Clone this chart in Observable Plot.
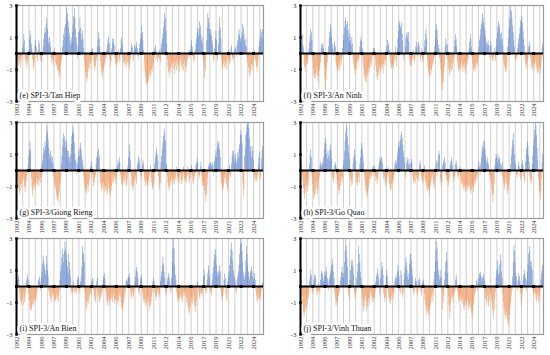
<!DOCTYPE html>
<html><head><meta charset="utf-8">
<script src="https://cdn.jsdelivr.net/npm/d3@7"></script>
<script src="https://cdn.jsdelivr.net/npm/@observablehq/plot@0.6"></script>
<style>
html,body{margin:0;padding:0;background:#fff;}
#wrap{position:relative;width:550px;height:355px;overflow:hidden;background:#fff;}
.panel{position:absolute;}
</style></head><body><div id="wrap"></div>
<script>
// x-axis tick labels (one every 20 months, starting Jan 1992)
const yearLabels = ["1992","1994","1996","1997","1999","2001","2002","2004","2006","2007","2009","2011","2012","2014","2016","2017","2019","2021","2022","2024"];
const yTicks = [-3, -1, 1, 3];
const panelTitles = ["(e) SPI-3/Tan Hiep", "(f) SPI-3/An Ninh", "(g) SPI-3/Giong Rieng", "(h) SPI-3/Go Quao", "(i) SPI-3/An Bien", "(j) SPI-3/Vinh Thuan"];

// Monthly SPI-3, Jan 1992 .. Dec 2024 (12 values per year)
const tanHiep = [
-0.2,-0.5,-0.7,-0.4,-0.8,-0.6,-0.3,-0.9,-0.5,-0.2,0.3,0.6,
1.2,0.8,-0.3,-0.6,-0.4,-0.9,-0.7,-0.5,0.2,0.9,1.4,1.1,
0.6,0.3,-0.4,-0.8,-1.0,-0.6,0.5,0.8,0.4,-0.3,-0.5,0.2,
0.8,0.6,-0.2,-0.5,-0.3,-0.6,-0.2,0.4,0.9,1.2,1.6,1.3,
2.2,1.8,1.5,0.9,0.6,1.0,0.7,0.4,-0.3,-0.6,-0.4,-0.8,
-0.5,0.3,-0.2,-0.6,-0.8,-0.7,-1.0,-1.1,-1.3,-1.5,-1.2,-0.8,
-0.5,-0.3,0.4,0.8,1.2,1.6,1.0,1.8,2.2,2.8,2.5,2.0,
1.6,1.2,0.8,0.5,1.0,0.7,1.3,1.8,2.3,2.8,2.2,1.5,
1.0,0.6,-0.3,0.4,1.3,1.4,2.2,1.6,1.2,0.8,1.4,0.9,
0.3,-0.4,-0.8,-1.2,-1.5,-1.8,-1.6,-1.2,-0.9,-0.6,-1.0,-0.7,
-0.4,0.2,0.3,-0.2,-0.6,-0.9,-1.1,-0.8,-0.5,-0.3,0.4,0.8,
1.3,0.9,0.4,-0.5,-0.9,-1.3,-1.5,-1.2,-1.0,-0.6,-0.8,-0.4,
-0.3,0.2,0.5,0.8,1.0,0.6,-0.4,-0.8,-0.5,0.3,0.9,0.6,
0.9,0.5,-0.3,-0.7,-0.5,-0.9,-0.6,-0.3,0.2,-0.4,-0.6,0.3,
0.8,1.0,0.5,-0.3,-0.6,-0.8,-0.5,-0.7,-0.4,-0.9,-0.6,-0.2,
-0.6,-1.0,-0.8,-0.4,0.3,0.6,0.4,-0.3,-0.5,0.2,0.5,0.3,
0.4,0.7,0.3,-0.2,-0.4,0.3,0.6,0.9,1.2,1.7,1.3,0.8,
0.2,-0.5,-1.0,-1.5,-1.8,-2.0,-1.9,-1.6,-1.8,-1.4,-1.1,-1.5,
-1.3,-1.0,-0.8,-1.2,-0.6,-0.3,0.3,0.5,0.2,-0.4,-0.6,-0.2,
-0.3,0.2,-0.4,-0.6,0.3,0.6,0.9,1.2,1.6,2.0,2.5,2.2,
1.4,0.6,-0.4,-0.8,-1.2,-1.5,-1.1,-0.9,-1.3,-0.7,-0.5,-0.9,
-0.6,-1.0,-1.3,-0.8,-0.5,-1.1,-0.7,-0.4,-0.9,-1.2,-0.6,-0.3,
-0.5,-0.8,-1.0,-0.7,-1.1,-0.6,-0.4,-0.9,-1.2,-0.8,-0.5,-0.3,
-0.2,0.2,-0.3,0.1,0.5,0.8,0.4,-0.2,-0.4,-0.6,-0.3,0.2,
0.6,0.9,1.3,1.6,1.1,1.5,2.0,1.7,1.2,0.8,1.0,0.6,
-0.4,-0.9,-1.5,-1.1,-0.3,0.8,1.6,2.5,2.2,1.9,1.5,1.2,
1.5,1.1,0.8,0.5,-0.4,-0.6,0.3,0.9,1.4,0.8,-0.3,-0.5,
0.6,1.4,2.2,1.6,0.9,-0.4,-0.8,-1.0,-0.7,-0.5,-0.9,-0.6,
-0.8,-1.0,-0.6,-0.3,0.2,-0.4,-0.7,-0.5,0.3,0.5,-0.2,-0.4,
-0.3,-0.6,0.2,0.4,0.3,-0.2,0.5,0.8,1.1,1.5,1.2,0.9,
0.7,1.0,1.3,1.8,1.6,1.2,0.8,0.5,0.9,0.4,-0.3,-0.6,
-0.9,-1.2,-1.5,-1.3,-1.0,-0.7,-1.1,-0.8,-0.5,-0.3,0.2,-0.4,
-0.6,-0.9,-1.2,-0.8,-0.3,0.4,0.7,1.0,1.5,1.3,0.9,1.5];

const anNinh = [
-0.5,-0.8,-1.0,0.6,1.2,0.4,-0.6,-0.9,-1.2,-0.8,-0.4,-0.7,
-0.6,-0.3,0.3,0.7,1.1,1.5,1.3,0.8,-0.4,-1.0,-1.4,-1.6,
-1.3,-1.6,-1.2,-0.9,-1.4,-1.8,-1.5,-1.1,-0.8,-0.6,0.3,0.6,
0.5,0.6,0.3,-0.8,-1.5,-2.3,-1.7,-1.0,-0.6,-0.3,0.4,0.9,
1.3,1.8,1.5,1.0,0.6,0.3,-0.2,0.5,0.7,0.4,-0.5,-0.8,
-1.0,-1.2,-0.9,-0.6,-1.1,-0.8,-0.4,-0.7,-0.3,0.3,0.8,1.2,
1.6,2.0,2.2,1.8,1.4,2.0,1.5,1.0,0.7,1.2,0.8,0.5,
1.0,0.6,-0.3,-0.7,-1.0,-1.3,-0.9,-1.1,-0.6,-0.4,-0.8,-0.5,
-0.3,0.4,0.8,1.0,0.7,0.3,-0.4,-0.9,-1.3,-1.6,-1.8,-1.4,
-1.8,-1.5,-1.2,-0.9,-1.3,-1.0,-0.7,-0.5,-0.8,-0.4,-0.2,0.3,
0.3,0.2,-0.4,-0.8,-1.2,-1.5,-1.7,-1.4,-1.1,-0.9,-1.2,-0.8,
-1.0,-0.6,-0.9,-1.3,-0.7,-0.4,-0.8,-0.5,-0.3,0.4,0.8,0.5,
0.6,0.2,-0.3,-0.6,-0.9,-1.0,-0.7,-0.8,-1.0,-0.6,-0.3,0.4,
-0.5,-0.8,0.3,0.9,1.4,1.8,2.0,1.7,1.5,1.9,1.2,0.8,
-0.3,-0.5,-0.2,0.4,0.9,1.2,1.3,1.0,1.3,0.7,-0.4,-0.8,
-0.6,-0.8,-0.5,-0.3,0.2,-0.4,-0.6,-0.3,0.4,0.7,0.3,-0.2,
0.5,0.7,0.4,-0.3,-0.5,-0.2,0.3,-0.4,-0.6,-0.3,0.4,0.8,
1.2,1.5,0.9,-0.4,-0.9,-1.2,-1.5,-1.3,-1.0,-1.4,-1.1,-0.7,
-0.8,-0.5,-0.3,0.4,0.9,1.5,1.8,1.4,0.8,0.5,0.3,-0.3,
-0.6,-1.0,-1.5,-1.9,-2.3,-1.8,-1.2,-0.8,0.4,0.9,0.6,-0.4,
0.5,-0.6,-1.0,-1.4,-1.2,-0.9,-1.1,-0.7,-1.0,-0.6,-0.3,0.4,
0.8,1.2,0.9,0.4,-0.5,-0.9,-1.2,-1.0,-0.8,-1.1,-0.7,-0.5,
-0.9,-1.2,-0.8,-0.6,-1.0,-1.3,-0.9,-0.6,-0.4,-0.7,-0.3,0.3,
0.7,1.2,0.9,0.4,-0.3,-0.7,-1.0,-1.2,-0.9,-1.1,-0.8,-0.6,
-0.9,-0.6,-0.3,0.4,0.8,1.1,1.5,1.8,2.0,2.5,2.2,1.9,
1.6,1.4,1.0,0.7,0.4,0.6,0.8,0.5,-0.3,0.4,0.7,0.5,
-0.3,-0.5,-0.4,-0.2,0.3,-0.3,-0.5,0.4,0.9,1.3,1.7,2.0,
1.8,1.6,1.2,0.8,1.3,0.9,0.5,-0.4,-0.7,-0.9,-1.1,-1.2,
-1.0,-0.6,0.4,0.9,1.5,2.1,2.7,3.0,2.6,2.2,1.7,1.3,
0.8,0.4,-0.3,-0.5,-0.4,-0.2,0.3,0.6,0.9,1.2,1.6,2.0,
2.1,2.3,1.9,1.4,0.9,0.5,-0.4,-0.7,-1.0,-0.8,-0.5,-0.3,
0.4,0.7,0.5,-0.3,-0.6,-0.9,-1.1,-0.8,-0.6,-1.0,-0.7,-0.4,
-0.6,-0.9,-1.3,-1.1,-1.2,-0.8,-1.0,-1.3,-0.9,-0.5,0.3,0.6];

const giongRieng = [
0.3,-0.4,-0.7,-1.0,-1.2,-1.5,-1.3,-0.9,-1.1,-0.8,-0.5,-0.3,
-0.6,-1.0,-1.4,-1.1,-0.7,-0.4,-0.2,0.4,0.9,1.3,1.8,1.2,
-0.5,-1.1,-1.6,-1.3,-0.9,-1.0,-0.7,-1.1,-0.8,-0.5,-0.9,-0.6,
-1.0,-0.7,-0.4,-0.8,-0.5,0.3,0.6,1.0,1.4,1.2,1.8,1.5,
2.2,2.8,2.4,1.9,1.4,1.0,0.7,1.2,0.9,0.5,0.8,0.4,
-0.4,-0.8,-1.2,-1.0,-1.5,-1.7,-1.9,-2.0,-1.6,-1.3,-0.9,-0.5,
0.4,0.9,1.5,2.0,2.3,2.1,1.8,1.4,1.9,1.6,1.2,0.8,
1.2,0.8,0.5,1.0,1.6,2.1,2.4,2.7,2.3,1.7,1.0,0.6,
0.5,-0.3,0.4,0.8,1.2,0.9,1.4,1.7,1.3,0.9,0.6,0.3,
-0.4,-0.8,-1.1,-1.3,-1.5,-1.2,-0.9,-1.4,-1.0,-0.7,-0.5,0.2,
0.5,0.3,-0.3,-0.7,-1.0,-0.8,-0.5,-0.3,0.4,0.8,1.1,0.7,
1.3,0.9,-0.4,-0.8,-1.1,-1.3,-0.9,-1.2,-0.7,-1.0,-1.4,-1.2,
-1.0,-1.3,-1.5,-1.2,-0.8,-1.1,-1.4,-1.6,-1.3,-1.0,-0.7,-0.4,
-0.8,-0.5,-0.3,-0.6,-0.9,-0.4,0.3,0.6,0.4,0.8,0.5,-0.3,
-0.5,-0.9,-1.0,-0.7,-0.4,-0.8,-0.6,-0.3,-0.9,-1.0,-0.6,0.3,
0.8,1.6,1.2,0.6,-0.4,-0.9,-1.1,-1.3,-1.0,-0.7,-0.5,-0.3,
-0.6,-0.9,0.3,0.5,0.9,0.7,0.4,-0.3,-0.6,-0.4,0.3,0.6,
0.4,-0.4,-0.7,-1.0,-0.8,-0.6,-0.9,-1.0,-0.7,-0.4,-0.2,0.3,
-0.5,-0.8,-1.1,-1.2,-0.9,-0.6,0.4,0.8,1.1,1.4,1.0,0.6,
-0.4,-0.9,-1.2,-0.8,0.5,0.9,1.3,1.7,2.1,2.6,2.3,1.8,
0.4,0.3,-0.4,-0.8,-1.0,-1.3,-1.1,-0.7,-0.9,-0.5,-0.3,-0.6,
-0.8,-0.5,-0.9,-0.6,-0.3,0.2,-0.4,-0.7,-0.5,-0.8,-0.4,-0.2,
-0.6,-0.9,-0.7,-0.4,0.2,-0.3,-0.6,-0.8,-0.5,-0.7,-0.4,0.2,
-0.3,-0.6,-0.8,-0.5,-0.2,0.3,-0.4,-0.7,-0.9,-0.6,-0.4,-0.2,
0.3,0.5,0.7,0.4,-0.3,-0.6,-0.4,0.2,0.5,-0.4,-0.8,-1.0,
-0.7,-1.0,-1.3,-1.6,-2.0,-1.5,-0.9,-0.5,0.2,0.4,0.3,0.5,
0.4,0.2,0.5,0.3,-0.3,0.4,0.6,0.9,1.2,0.8,1.4,1.8,
1.6,1.8,1.3,0.8,-0.4,-0.8,-1.0,-1.3,-1.1,-0.8,-0.5,-0.3,
-0.6,-0.9,-1.3,-1.1,-0.7,-0.4,0.3,-0.3,-0.5,0.4,0.9,1.2,
1.2,0.8,0.5,1.0,0.7,0.4,0.6,1.1,0.8,1.3,1.6,2.2,
2.5,2.2,1.7,-0.8,-1.6,-1.2,0.9,1.4,2.2,2.4,2.8,3.0,
3.0,2.6,2.0,1.5,1.2,0.8,1.5,1.2,0.6,-0.3,-0.5,-0.7,
-0.4,-0.7,-0.5,-0.3,0.4,0.8,1.1,-0.4,-0.6,0.7,1.2,1.5];

const goQuao = [
0.3,0.6,0.4,-0.3,-0.7,-1.1,-1.5,-1.8,-1.4,-1.0,-0.6,-0.8,
-1.3,-1.0,-0.6,0.4,0.9,1.3,0.8,-0.4,-0.9,-1.4,-1.8,-1.6,
-1.5,-1.2,-0.8,-1.1,-1.5,-1.2,-0.7,-0.4,0.3,0.5,0.4,0.2,
0.5,0.4,0.8,1.3,1.7,2.0,1.6,1.0,0.7,1.2,0.9,0.6,
1.3,1.6,1.2,0.7,-0.4,-0.6,-0.8,-0.5,0.3,0.5,0.3,-0.3,
-0.6,-0.9,-1.2,-1.5,-1.3,-1.0,-0.7,-0.4,-0.8,-0.5,0.3,0.6,
1.2,1.8,2.4,3.0,2.7,2.1,1.6,1.1,0.7,-0.4,-0.7,-1.0,
-0.6,-0.9,0.4,0.8,1.3,1.0,0.6,-0.5,-0.8,-1.0,-0.7,-0.4,
-0.8,0.4,0.8,1.3,1.7,1.4,0.9,0.5,-0.3,-0.6,-1.0,-1.3,
-1.5,-1.7,-1.4,-1.1,-0.8,-0.5,-0.3,-0.6,-0.4,-0.2,0.2,-0.3,
0.3,0.2,-0.4,-0.7,-0.5,-0.9,-0.6,-0.3,0.3,0.5,0.8,0.6,
0.8,0.7,0.4,-0.3,-0.6,-0.4,-0.7,-1.0,-0.8,-0.5,-0.3,0.2,
-0.4,-0.8,-1.1,-1.3,-1.2,-0.9,-0.6,-0.8,-0.5,-0.3,0.4,0.6,
0.3,0.5,0.9,1.2,1.5,1.8,1.4,1.9,2.2,2.4,2.0,1.6,
1.2,0.8,0.5,-0.3,-0.5,0.4,0.8,0.6,0.3,0.7,0.4,-0.3,
0.4,0.7,0.5,-0.4,-0.7,-0.9,-0.6,-0.3,-0.8,-0.5,-0.3,-0.6,
-0.4,-0.7,0.3,0.6,0.4,-0.3,-0.6,-0.9,-0.7,-0.4,0.3,-0.5,
-0.7,-0.9,-1.1,-1.3,-1.0,-1.2,-1.5,-1.3,-1.0,-0.8,-0.5,-0.3,
-0.6,-0.9,-1.2,-0.8,-0.5,0.3,0.6,-0.4,0.5,0.9,1.2,1.0,
-0.5,-0.8,-1.0,-0.7,0.3,0.6,0.4,0.8,0.5,-0.3,-0.6,-0.4,
-0.7,-1.0,-0.8,-0.5,0.3,0.5,0.8,0.6,0.3,-0.4,-0.7,-0.5,
-0.3,0.4,0.6,0.3,-0.3,-0.6,-0.4,-0.2,0.2,-0.4,-0.7,-0.9,
-0.8,-1.0,-1.2,-0.9,-1.1,-1.4,-1.2,-0.9,-1.0,-1.3,-1.1,-0.8,
-1.0,-1.3,-1.5,-1.2,-0.9,-1.1,-1.4,-1.0,-0.7,-0.9,-0.6,-0.4,
-0.6,-0.3,0.3,0.5,0.2,-0.3,0.4,0.8,1.2,1.5,1.8,1.4,
1.8,1.3,0.9,0.6,0.4,0.8,0.5,0.3,-0.3,-0.6,-0.4,-0.8,
-1.2,-1.6,-2.0,-1.5,-0.9,0.3,0.7,1.0,0.8,0.5,1.0,0.7,
0.6,0.8,0.4,-0.3,0.3,0.5,-0.4,-0.7,-1.0,-1.2,-0.8,-0.5,
-0.9,-1.2,-1.5,-1.3,-0.9,-0.6,-0.3,0.4,0.9,1.4,1.9,2.3,
1.6,1.0,0.5,0.3,-0.3,-0.5,-0.3,0.3,0.5,0.2,-0.4,-0.6,
-0.3,0.4,0.6,0.3,-0.4,-0.6,-0.8,0.5,1.0,1.4,1.8,1.5,
0.9,0.5,-0.4,-0.7,-0.9,-0.6,0.4,0.9,1.5,2.0,2.5,3.0,
2.8,2.2,1.4,0.6,-0.5,-1.0,-1.4,-1.8,-1.3,-0.6,0.5,1.0];

const anBien = [
-0.6,-0.9,0.4,0.7,0.5,-0.4,-0.8,-1.0,-1.2,-0.9,-0.6,-0.4,
-1.2,-1.0,-0.7,-0.4,0.3,0.5,0.7,0.4,-0.5,-0.9,-1.3,-1.5,
-1.5,-1.3,-1.1,-0.8,-1.2,-0.9,-0.6,-1.0,-0.7,-0.4,-0.2,0.3,
0.4,0.6,0.3,-0.3,0.5,0.9,1.4,1.9,1.6,1.3,1.0,0.7,
1.9,1.4,1.0,0.6,-0.3,-0.6,-0.4,-0.8,-1.0,-0.7,-0.5,-0.3,
-0.6,-0.8,-1.0,-0.9,-0.7,-0.5,-0.8,-1.0,-0.6,-0.3,0.4,0.9,
1.3,1.8,2.3,2.0,1.5,2.2,2.8,2.4,2.0,1.6,1.2,0.8,
2.0,1.5,1.0,0.6,-0.3,-0.5,-0.3,-0.4,0.3,-0.2,-0.4,-0.3,
-0.5,-0.3,0.4,0.6,0.5,-0.3,-0.5,0.3,0.6,1.2,2.5,2.1,
2.0,1.5,-0.4,-0.9,-1.5,-1.3,-1.0,-0.8,-1.1,-0.7,-0.5,-0.3,
-0.5,0.3,0.5,0.4,-0.3,-0.6,-0.9,-1.0,-0.7,0.3,0.5,-0.4,
-0.6,-0.9,-1.0,-0.7,-0.4,-0.6,-0.3,0.4,0.6,0.8,0.5,-0.3,
-0.6,-0.9,-1.2,-1.0,-0.7,-0.9,-1.2,-0.8,-0.5,-0.8,-1.0,-0.7,
-0.5,-0.8,-1.1,-0.9,-0.6,-0.8,-1.0,-1.2,-0.9,-0.6,-0.4,-0.7,
-1.0,-1.3,-1.5,-1.4,-1.1,-0.8,-0.5,-0.3,0.3,0.4,0.3,0.5,
0.6,0.8,0.5,-0.4,-0.8,-0.6,-0.3,-0.5,-0.7,-0.4,0.3,0.6,
1.0,1.2,0.9,0.5,-0.4,-0.6,-0.3,0.4,0.7,0.5,-0.4,-0.7,
-0.9,-1.1,-0.8,-1.0,-1.3,-1.1,-0.8,-0.6,-1.0,-1.3,-1.5,-1.2,
-1.0,-0.7,-0.4,0.3,0.5,0.3,-0.4,-0.7,-0.9,-0.6,-0.4,-0.2,
-0.5,-0.7,-0.4,0.3,0.6,0.9,1.3,1.8,1.4,0.9,0.5,-0.3,
-0.6,-0.4,0.3,0.5,0.8,0.6,0.3,-0.3,-0.5,0.5,1.5,2.3,
3.0,2.4,1.3,0.7,0.4,-0.4,-0.7,-1.0,-0.8,-0.6,-0.9,-0.7,
-0.5,-0.8,-1.0,-0.7,-0.4,-0.6,-0.3,-0.5,-0.8,-1.0,-0.7,-1.2,
-1.4,-1.8,-1.6,-1.3,-1.0,-0.7,-1.1,-0.8,-0.5,-1.0,-1.3,-1.6,
-1.2,-0.9,0.3,0.2,-0.3,-0.6,-0.8,-0.5,-0.3,-0.5,-0.7,-0.4,
0.6,1.0,0.7,-0.3,-0.5,-0.3,0.4,0.8,1.3,1.0,0.6,-0.3,
-0.4,-0.6,0.4,0.8,1.2,1.6,2.0,2.3,1.8,1.3,0.9,0.6,
0.8,1.0,1.3,0.9,-0.3,-0.6,-0.9,-0.7,-0.4,0.4,0.8,0.5,
-0.5,-0.9,-0.7,0.3,0.6,0.9,1.3,1.8,2.3,2.7,2.2,1.6,
1.0,0.7,0.5,0.3,-0.3,-0.5,0.4,0.6,0.9,1.3,2.0,2.6,
3.0,2.7,2.2,1.5,0.9,0.6,0.4,0.8,1.6,2.5,2.0,1.3,
0.9,0.6,0.4,0.8,1.0,1.2,0.9,0.6,0.3,0.5,0.8,0.4,
-0.3,-0.6,-0.9,-1.0,-0.8,-0.5,-0.7,-0.9,-0.6,-0.3,0.2,0.2];

const vinhThuan = [
0.6,1.0,0.4,-0.6,-1.2,-1.6,-2.0,-1.7,-1.3,-1.5,-1.0,-0.7,
-1.2,-0.8,-0.5,0.3,0.6,1.0,0.7,-0.4,-0.3,-0.5,0.4,0.7,
0.7,0.5,-0.3,-0.6,-0.4,-0.3,0.2,-0.3,-0.5,0.4,0.8,1.0,
0.8,0.5,0.3,0.6,0.9,0.7,1.2,0.9,0.5,0.3,-0.3,0.4,
0.6,0.8,1.0,1.3,1.7,1.4,0.9,0.5,-0.4,-0.8,-1.2,-1.0,
-1.2,-0.9,-0.6,-0.4,-0.3,0.3,0.6,0.9,1.2,0.8,0.5,0.8,
1.5,2.2,3.0,2.5,1.8,1.2,-0.3,-0.6,-0.8,0.4,1.0,1.6,
1.3,1.6,1.2,0.7,-0.4,-0.8,-0.6,-0.3,0.5,0.9,1.4,2.5,
2.0,1.5,0.9,0.5,-0.4,-0.8,-1.2,-1.6,-1.3,-0.9,-0.6,-0.9,
-1.6,-1.3,-1.0,-0.7,-1.2,-0.9,-0.5,-0.3,-0.6,-0.8,-1.0,-0.7,
-1.0,-0.7,-0.4,0.3,0.6,0.8,1.1,0.7,0.4,-0.4,-0.7,0.5,
1.0,1.5,1.2,0.7,-0.5,-0.8,-1.0,-0.7,0.6,1.0,0.6,-0.4,
-0.7,-1.0,-0.8,-1.1,-0.9,-0.6,-0.3,-0.5,-0.8,-0.4,0.3,0.5,
0.7,0.5,0.9,1.3,1.0,0.6,-0.3,-0.5,1.0,0.7,-0.4,-0.7,
-0.5,0.4,0.8,1.2,1.8,1.5,1.0,0.6,0.4,0.8,1.4,2.0,
2.0,1.6,1.1,0.6,-0.3,-0.6,-0.4,0.3,0.5,0.3,-0.4,-0.6,
-0.3,0.4,0.5,0.3,-0.3,-0.6,-0.4,0.2,0.4,0.3,-0.5,-0.9,
-1.2,-1.5,-1.8,-1.6,-1.3,-1.7,-1.9,-1.5,-1.2,-1.0,-0.7,-0.4,
-1.0,-0.6,0.4,0.9,1.5,2.2,2.8,2.4,1.6,1.0,0.7,0.4,
0.5,1.0,0.6,-0.4,-1.5,-1.0,-0.6,0.4,0.9,1.5,2.1,1.6,
0.8,-0.6,-1.2,-2.0,-1.6,-1.1,-0.8,-0.5,-0.7,-1.0,-0.6,-0.4,
-0.3,0.4,0.7,0.4,-0.3,-0.6,-0.9,-1.0,-0.7,-0.5,-0.8,-1.0,
-0.8,-1.1,-1.3,-1.5,-1.2,-0.9,-1.3,-1.1,-0.8,-1.0,-1.3,-1.5,
-1.2,-1.0,-1.4,-1.7,-2.0,-1.6,-1.2,-0.9,-0.6,-0.4,-0.2,0.3,
0.4,-0.3,0.2,0.5,0.8,0.7,0.9,0.6,0.3,0.5,0.8,0.6,
0.4,-0.4,-0.8,-1.2,-0.9,-0.6,-1.0,-1.3,-0.9,-0.5,-0.3,-0.7,
-1.0,-1.4,-1.7,-2.0,-1.5,-0.8,-0.4,0.5,1.0,1.6,1.2,0.7,
0.8,1.4,2.0,1.6,0.9,0.5,-0.5,-1.0,-1.4,-1.8,-2.0,-1.6,
-1.8,-2.0,-2.3,-2.5,-2.2,-1.8,-1.4,-1.0,-0.6,-0.3,0.6,1.5,
2.5,2.2,1.5,0.8,0.6,0.3,-0.3,0.4,0.8,0.6,0.3,-0.5,
-1.2,-0.8,-0.4,0.4,0.7,1.0,0.8,0.5,-0.3,0.4,0.9,1.4,
2.0,2.5,2.2,1.6,1.2,1.5,1.0,-0.3,-0.6,-0.4,-0.3,-0.5,
-0.8,-1.0,-0.7,-0.5,-0.9,-1.0,-0.6,-0.3,0.4,0.8,1.0,1.3];

const series = [tanHiep, anNinh, giongRieng, goQuao, anBien, vinhThuan];
const nMonths = 396;
const tickIdx = yearLabels.map((_, k) => k * 20);
const gridIdx = d3.range(0, nMonths, 10);
const BLUE = "#4472C4", ORANGE = "#ED7D31";
const FONT = "'Liberation Serif', 'Times New Roman', serif";

const cols = [{left: 0, ml: 16, mr: 12}, {left: 275, ml: 25, mr: 7}];
const rows = [0, 117, 233];
const wrap = document.getElementById("wrap");

series.forEach((vals, p) => {
  const col = cols[p % 2], top = rows[Math.floor(p / 2)];
  const data = vals.map((v, i) => ({i, v}));
  const chart = Plot.plot({
    width: 275, height: 120,
    marginLeft: col.ml, marginRight: col.mr, marginTop: 5, marginBottom: 19,
    style: {fontFamily: FONT, background: "transparent", overflow: "visible"},
    x: {domain: [0, nMonths]},
    y: {domain: [-3, 3]},
    marks: [
      Plot.ruleX(gridIdx, {x: d => d, stroke: "#cfcfcf", strokeWidth: 1}),
      Plot.rect(data.filter(d => d.v >= 0), {x1: "i", x2: d => d.i + 1, y1: d => 0, y2: "v", fill: BLUE, fillOpacity: 0.7, inset: 0}),
      Plot.rect(data.filter(d => d.v < 0), {x1: "i", x2: d => d.i + 1, y1: d => 0, y2: "v", fill: ORANGE, fillOpacity: 0.65, inset: 0}),
      Plot.frame({stroke: "#9a9a9a", strokeWidth: 1.2}),
      Plot.ruleX([0], {stroke: "black", strokeWidth: 2}),
      Plot.ruleY([0], {stroke: "black", strokeWidth: 2}),
      Plot.dot(tickIdx, {x: d => d, y: d => 0, symbol: "square", r: 1.7, fill: "black", stroke: null}),
      Plot.dot(yTicks, {x: d => 0, y: d => d, symbol: "square", r: 1.4, fill: "black", stroke: null}),
      Plot.axisY({ticks: yTicks, tickFormat: d => String(d), tickSize: 0, tickPadding: 4, fontSize: 7, fill: "#333", label: null}),
      Plot.axisX({ticks: tickIdx, tickFormat: d => yearLabels[Math.round(d / 20)], tickRotate: -90, tickSize: 0, tickPadding: 2, fontSize: 6.5, fill: "#333", label: null}),
      Plot.text([panelTitles[p]], {frameAnchor: "bottom-left", dx: 3, dy: -4, fontSize: 8, fill: "#111", stroke: "white", strokeWidth: 5, textAnchor: "start"})
    ]
  });
  chart.classList.add("panel");
  chart.style.left = col.left + "px";
  chart.style.top = top + "px";
  wrap.appendChild(chart);
});
</script>
</body></html>
